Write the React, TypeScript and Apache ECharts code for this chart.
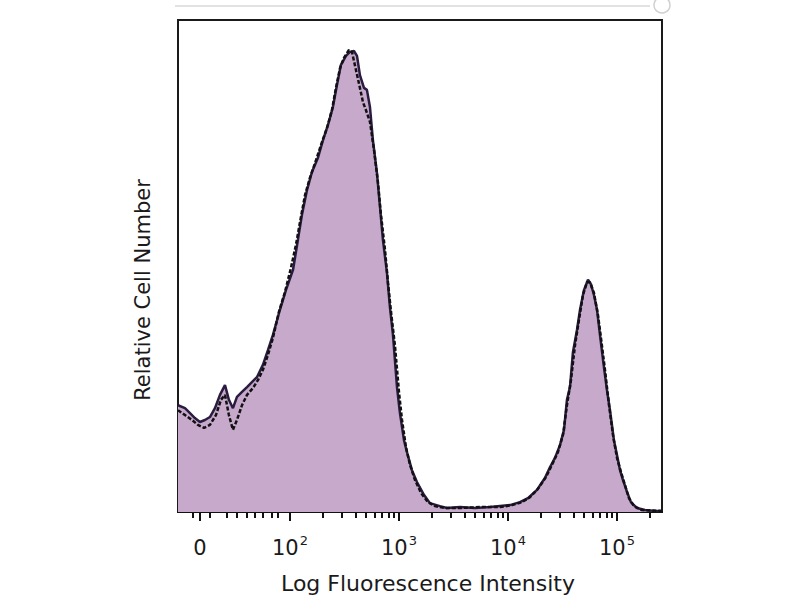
import { useEffect, useRef } from "react";
import * as echarts from "echarts";

// Axis position in display decades (10^2 = 2, 10^3 = 3 ...), the "0" sits in the linear part of the scale
const filledPos = [0.973, 1.037, 1.083, 1.128, 1.174, 1.22, 1.266, 1.312, 1.358, 1.404, 1.44, 1.477, 1.514, 1.56, 1.606, 1.651, 1.697, 1.752, 1.798, 1.844, 1.908, 1.963, 2.028, 2.073, 2.11, 2.156, 2.202, 2.257, 2.303, 2.349, 2.394, 2.431, 2.468, 2.514, 2.55, 2.587, 2.615, 2.642, 2.679, 2.706, 2.734, 2.761, 2.798, 2.826, 2.853, 2.89, 2.917, 2.945, 2.982, 3.009, 3.046, 3.073, 3.119, 3.165, 3.229, 3.284, 3.376, 3.44, 3.56, 3.697, 3.835, 3.927, 4.018, 4.11, 4.183, 4.266, 4.339, 4.385, 4.431, 4.477, 4.514, 4.541, 4.569, 4.596, 4.633, 4.661, 4.697, 4.734, 4.761, 4.789, 4.817, 4.844, 4.872, 4.908, 4.936, 4.972, 5.0, 5.028, 5.055, 5.092, 5.128, 5.183, 5.257, 5.349, 5.413];
const filledCount = [21.7, 21.1, 20.1, 19.1, 18.3, 18.7, 19.3, 21.1, 23.8, 25.8, 22.8, 21.1, 23.4, 24.4, 25.4, 26.4, 27.4, 29.9, 32.9, 36.0, 41.1, 45.1, 49.2, 55.3, 60.4, 65.4, 69.1, 72.0, 75.6, 78.7, 82.3, 86.8, 90.9, 92.7, 93.5, 93.7, 92.7, 88.8, 86.2, 85.8, 82.3, 75.6, 68.9, 62.0, 55.3, 48.6, 41.7, 36.0, 25.4, 20.1, 14.6, 12.2, 8.5, 6.1, 3.5, 1.8, 1.2, 0.8, 1.0, 0.8, 1.0, 1.2, 1.4, 2.0, 2.8, 4.5, 6.9, 9.1, 11.0, 13.6, 16.7, 22.8, 25.4, 32.5, 37.0, 41.1, 45.1, 47.2, 46.3, 44.1, 41.1, 36.0, 30.9, 24.8, 20.7, 14.6, 11.6, 8.5, 6.5, 4.1, 2.0, 0.8, 0.4, 0.2, 0.2];

const dashedPos = [0.973, 1.037, 1.101, 1.156, 1.211, 1.266, 1.321, 1.367, 1.404, 1.44, 1.477, 1.514, 1.56, 1.606, 1.661, 1.706, 1.752, 1.798, 1.844, 1.899, 1.954, 2.009, 2.055, 2.092, 2.138, 2.183, 2.239, 2.294, 2.339, 2.385, 2.422, 2.459, 2.495, 2.541, 2.569, 2.606, 2.642, 2.67, 2.697, 2.734, 2.771, 2.807, 2.835, 2.872, 2.899, 2.927, 2.963, 3.0, 3.028, 3.064, 3.101, 3.147, 3.202, 3.266, 3.33, 3.422, 3.56, 3.743, 3.927, 4.037, 4.128, 4.202, 4.275, 4.349, 4.404, 4.459, 4.505, 4.541, 4.578, 4.615, 4.651, 4.688, 4.725, 4.752, 4.789, 4.826, 4.853, 4.89, 4.927, 4.963, 5.0, 5.037, 5.073, 5.11, 5.156, 5.229, 5.413];
const dashedCount = [20.7, 19.7, 18.7, 17.7, 17.1, 17.7, 19.7, 22.8, 23.8, 19.7, 16.7, 18.7, 21.7, 23.8, 25.2, 26.8, 28.9, 31.9, 35.4, 40.7, 44.7, 49.6, 54.3, 58.9, 64.4, 67.9, 71.5, 75.2, 78.0, 81.7, 86.2, 90.2, 92.3, 93.9, 93.5, 89.8, 86.2, 83.3, 81.7, 79.3, 73.6, 67.1, 60.4, 53.3, 46.7, 40.7, 33.9, 24.4, 18.7, 13.2, 9.6, 6.5, 3.9, 2.0, 1.2, 0.8, 0.8, 1.0, 1.0, 1.4, 2.0, 3.0, 4.7, 7.1, 9.6, 12.2, 15.7, 21.7, 26.8, 33.9, 39.0, 44.1, 46.7, 46.7, 44.5, 40.0, 35.4, 28.9, 21.7, 15.7, 11.0, 8.1, 5.5, 2.8, 1.2, 0.4, 0.2];

const majorTickPos = [1.174, 2, 3, 4, 5];
const majorTickBase = ["0", "10", "10", "10", "10"];
const majorTickExp = ["", "2", "3", "4", "5"];
const linearMinorTickPos = [1.11, 1.266, 1.422, 1.514, 1.606, 1.679, 1.752, 1.835, 1.89];
const logMinorMultipliers = [2, 3, 4, 5, 6, 7, 8, 9];
const logMinorDecades = [2, 3, 4, 5];

const X_MIN = 0.973;
const X_MAX = 5.413;

export default function App() {
  const ref = useRef<HTMLDivElement>(null);
  useEffect(() => {
    if (!ref.current) return;
    const chart = echarts.init(ref.current, null, { renderer: "svg" });
    const logMinor: number[] = [];
    logMinorDecades.forEach((d) =>
      logMinorMultipliers.forEach((m) => {
        const v = d + Math.log10(m);
        if (v < X_MAX) logMinor.push(+v.toFixed(3));
      })
    );
    const minorTicks = linearMinorTickPos.concat(logMinor);
    const font = "DejaVu Sans";
    chart.setOption({
      animation: false,
      backgroundColor: "#ffffff",
      grid: {
        left: 178,
        right: 138,
        top: 20,
        bottom: 88,
        show: true,
        borderColor: "#1a1a1a",
        borderWidth: 2,
      },
      xAxis: [
        {
          type: "value",
          min: X_MIN,
          max: X_MAX,
          position: "bottom",
          splitLine: { show: false },
          axisLine: { show: true, onZero: false, lineStyle: { color: "#111", width: 2 } },
          axisTick: {
            show: true,
            customValues: majorTickPos,
            length: 9,
            lineStyle: { color: "#111", width: 2 },
          },
          axisLabel: {
            show: true,
            customValues: majorTickPos,
            margin: 22,
            color: "#1a1a1a",
            fontFamily: font,
            formatter: (v: number) => {
              const i = majorTickPos.findIndex((p) => Math.abs(p - v) < 1e-6);
              if (i < 0) return "";
              return majorTickExp[i]
                ? `{b|${majorTickBase[i]}}{s|${majorTickExp[i]}}`
                : `{b|${majorTickBase[i]}}`;
            },
            rich: {
              b: { fontSize: 21, fontFamily: font, color: "#1a1a1a", verticalAlign: "bottom", lineHeight: 24 },
              s: { fontSize: 13, fontFamily: font, color: "#1a1a1a", verticalAlign: "top", padding: [0, 0, 11, 1], lineHeight: 24 },
            },
          },
        },
        {
          type: "value",
          min: X_MIN,
          max: X_MAX,
          position: "bottom",
          splitLine: { show: false },
          axisLine: { show: false, onZero: false },
          axisLabel: { show: false },
          axisTick: {
            show: true,
            customValues: minorTicks,
            length: 6,
            lineStyle: { color: "#111", width: 2 },
          },
        },
      ],
      yAxis: {
        type: "value",
        min: 0,
        max: 100,
        axisLine: { show: false },
        axisTick: { show: false },
        axisLabel: { show: false },
        splitLine: { show: false },
      },
      series: [
        {
          type: "line",
          xAxisIndex: 0,
          data: filledPos.map((p, i) => [p, filledCount[i]]),
          showSymbol: false,
          lineStyle: { color: "#2a1c40", width: 2.5 },
          areaStyle: { color: "#c7a9cb", opacity: 1 },
          z: 2,
        },
        {
          type: "line",
          xAxisIndex: 0,
          data: dashedPos.map((p, i) => [p, dashedCount[i]]),
          showSymbol: false,
          lineStyle: { color: "#111111", width: 2.5, type: [4, 2] },
          z: 3,
        },
      ],
      graphic: [
        {
          type: "line",
          shape: { x1: 175, y1: 6, x2: 650, y2: 6 },
          style: { stroke: "#e2e2e2", lineWidth: 2 },
        },
        {
          type: "circle",
          shape: { cx: 662, cy: 5, r: 8 },
          style: { fill: "none", stroke: "#d0d0d0", lineWidth: 1.5 },
        },
        {
          type: "text",
          x: 428,
          y: 583,
          style: {
            text: "Log Fluorescence Intensity",
            fontFamily: font,
            fontSize: 22,
            fill: "#1a1a1a",
            align: "center",
            verticalAlign: "middle",
          },
        },
        {
          type: "text",
          x: 143,
          y: 290,
          rotation: Math.PI / 2,
          style: {
            text: "Relative Cell Number",
            fontFamily: font,
            fontSize: 21,
            fill: "#1a1a1a",
            align: "center",
            verticalAlign: "middle",
          },
        },
      ],
    });
    return () => chart.dispose();
  }, []);
  return (
    <div
      ref={ref}
      style={{ position: "fixed", left: 0, top: 0, width: 800, height: 600 }}
    />
  );
}
